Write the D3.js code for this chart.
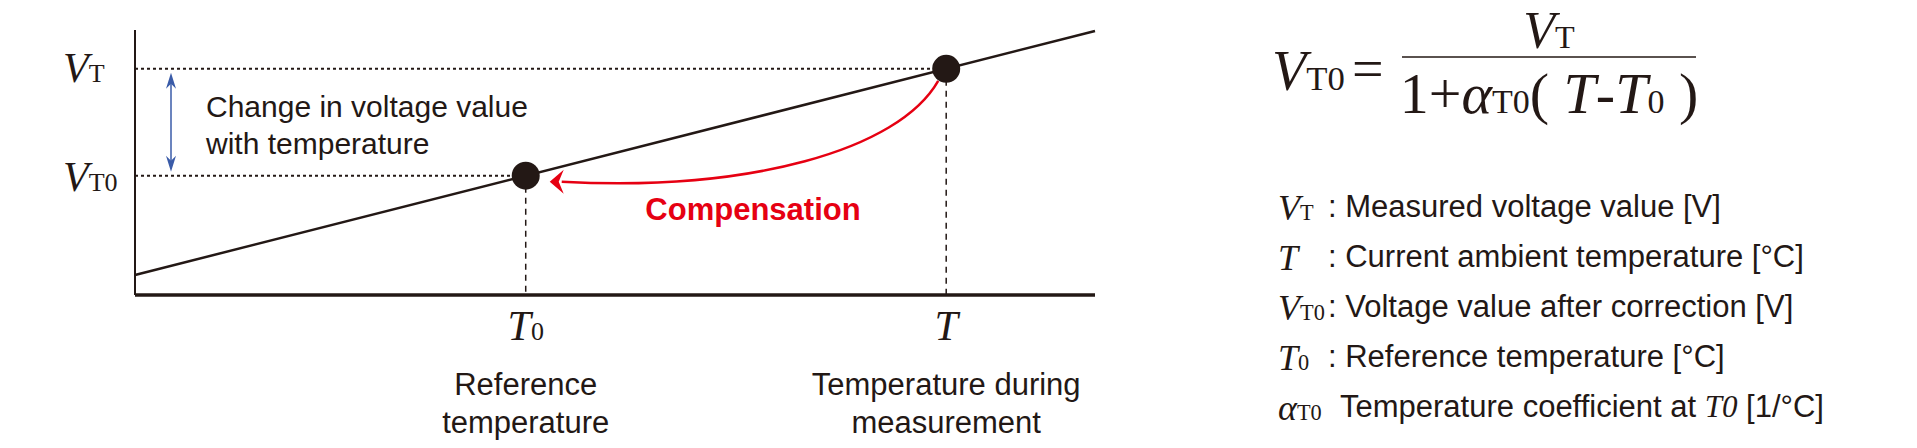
<!DOCTYPE html><html><head><meta charset="utf-8">
<script src="https://cdn.jsdelivr.net/npm/d3@7"></script>
<style>body{margin:0;background:#fff}text{font-family:"Liberation Sans",Arial,sans-serif;fill:#231815}.s{font-family:"Liberation Serif",serif}</style></head><body>
<svg id="c" width="1917" height="448"></svg>
<script>
const lineT=[0,1];           // temperature domain ends
const lineV=[0.0,1.0];       // voltage at domain ends
const pointT=[0.407,0.845];  // T0, T
const pointV=[0.407,0.845];  // VT0, VT
const tickLabels=["T0","T"];
const tickDesc=[["Reference","temperature"],["Temperature during","measurement"]];
const legendSym=[["V","T"],["T",""],["V","T0"],["T","0"],["α","T0"]];
const legendText=[": Measured voltage value [V]",": Current ambient temperature [°C]",": Voltage value after correction [V]",": Reference temperature [°C]","Temperature coefficient at "];

const svg=d3.select("#c");
const x=d3.scaleLinear().domain([0,1]).range([135,1095]);
const y=d3.scaleLinear().domain([0,1]).range([275,31]);
const ink="#231815";
svg.append("line").attr("x1",135).attr("x2",135).attr("y1",30).attr("y2",295).attr("stroke",ink).attr("stroke-width",2);
svg.append("line").attr("x1",135).attr("x2",1095).attr("y1",295).attr("y2",295).attr("stroke",ink).attr("stroke-width",3.5);
pointT.forEach((t,i)=>{
  svg.append("line").attr("x1",135).attr("x2",x(t)).attr("y1",y(pointV[i])).attr("y2",y(pointV[i])).attr("stroke",ink).attr("stroke-width",2).attr("stroke-dasharray","3,3");
  svg.append("line").attr("x1",x(t)).attr("x2",x(t)).attr("y1",y(pointV[i])).attr("y2",294).attr("stroke",ink).attr("stroke-width",1.5).attr("stroke-dasharray","6,5");
});
svg.append("line").attr("x1",x(lineT[0])).attr("y1",y(lineV[0])).attr("x2",x(lineT[1])).attr("y2",y(lineV[1])).attr("stroke",ink).attr("stroke-width",2.5);
const bt=y(pointV[1])+4, bb=y(pointV[0])-4, bl="#3a5ba8";
svg.append("line").attr("x1",171).attr("x2",171).attr("y1",bt+6).attr("y2",bb-6).attr("stroke",bl).attr("stroke-width",1.5);
svg.append("path").attr("d",`M171,${bt}L166,${bt+16}L171,${bt+11}L176,${bt+16}z`).attr("fill",bl);
svg.append("path").attr("d",`M171,${bb}L166,${bb-16}L171,${bb-11}L176,${bb-16}z`).attr("fill",bl);
const p1=[x(pointT[1])-8,y(pointV[1])+12], ax=x(pointT[0])+24, ay=y(pointV[0])+6;
svg.append("path").attr("d",`M${p1}C${p1[0]-40},${p1[1]+70} ${p1[0]-190},${ay+10} ${ax+12},${ay}`).attr("fill","none").attr("stroke","#e60012").attr("stroke-width",2.5);
svg.append("path").attr("d",`M${ax},${ay}L${ax+14},${ay-12}L${ax+9},${ay}L${ax+14},${ay+12}z`).attr("fill","#e60012");
svg.selectAll("circle.p").data(pointT).join("circle").attr("cx",d=>x(d)).attr("cy",(d,i)=>y(pointV[i])).attr("r",14).attr("fill",ink);
svg.append("text").attr("x",753).attr("y",220).attr("text-anchor","middle").attr("font-size",31).attr("font-weight","bold").style("fill","#e60012").text("Compensation");
svg.append("text").attr("x",206).attr("y",117).attr("font-size",30).text("Change in voltage value");
svg.append("text").attr("x",206).attr("y",154).attr("font-size",30).text("with temperature");
function sym(g,xx,yy,main,sub,fs,anchor){const t=g.append("text").attr("class","s").attr("x",xx).attr("y",yy).attr("font-size",fs).attr("text-anchor",anchor||"start");
 t.append("tspan").attr("font-style","italic").text(main); if(sub) t.append("tspan").attr("font-size",fs*0.62).text(sub); return t;}
sym(svg,63,82,"V","T",42); sym(svg,63,191,"V","T0",42);
pointT.forEach((t,i)=>{
  const tt=svg.append("text").attr("class","s").attr("x",x(t)).attr("y",340).attr("text-anchor","middle").attr("font-size",42);
  tt.append("tspan").attr("font-style","italic").text(tickLabels[i][0]);
  if(tickLabels[i].length>1) tt.append("tspan").attr("font-size",26).text(tickLabels[i].slice(1));
  tickDesc[i].forEach((s,j)=>svg.append("text").attr("x",x(t)).attr("y",395+j*38).attr("text-anchor","middle").attr("font-size",31).text(s));
});
sym(svg,1272,90,"V","T0",56);
svg.append("text").attr("class","s").attr("x",1352).attr("y",88).attr("font-size",56).text("=");
svg.append("line").attr("x1",1402).attr("x2",1696).attr("y1",57).attr("y2",57).attr("stroke",ink).attr("stroke-width",1.5);
sym(svg,1549,48,"V","T",52,"middle");
const den=svg.append("text").attr("class","s").attr("x",1549).attr("y",113).attr("font-size",58).attr("text-anchor","middle");
den.append("tspan").text("1+");den.append("tspan").attr("font-style","italic").text("α");den.append("tspan").attr("font-size",34).text("T0");
den.append("tspan").text("(  ");den.append("tspan").attr("font-style","italic").text("T");den.append("tspan").text("-");den.append("tspan").attr("font-style","italic").text("T");den.append("tspan").attr("font-size",34).text("0");den.append("tspan").text(" )");
const ly=[220,270,320,370,420];
legendSym.forEach((s,i)=>{
  sym(svg,1278,ly[i],s[0],s[1],36);
  const t=svg.append("text").attr("x",i==4?1340:1328).attr("y",ly[i]-3).attr("font-size",31).text(legendText[i]);
  if(i==4){t.append("tspan").style("font-family","Liberation Serif").attr("font-style","italic").text("T0");t.append("tspan").text(" [1/°C]");}
});
</script></body></html>
